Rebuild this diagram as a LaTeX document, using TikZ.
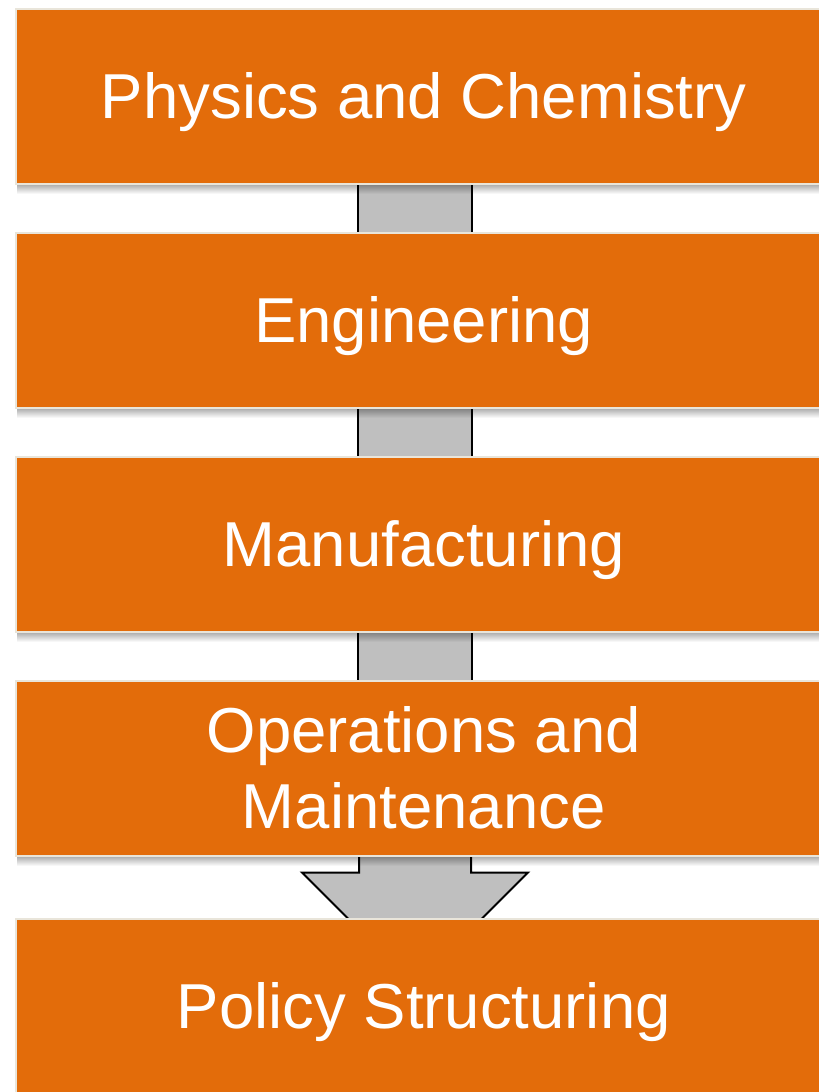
\documentclass[tikz,border=0pt]{standalone}
\usepackage{fontspec}
\setmainfont{Liberation Sans}
\usetikzlibrary{calc,backgrounds}
\definecolor{boxorange}{HTML}{E36C0A}
\definecolor{connectgray}{HTML}{BFBFBF}
\definecolor{boxedge}{HTML}{E9E5DA}
\begin{document}
\begin{tikzpicture}[x=1pt,y=-1pt,
  stage/.style={fill=boxorange, draw=boxedge, line width=1.5pt,
    minimum width=816pt, minimum height=175pt, inner sep=0pt,
    text=white, font=\fontsize{63.5}{76}\selectfont, align=center,
    anchor=north west},
  oneline/.style={text height=45pt, text depth=0pt},
  link/.style={fill=connectgray},
  linkside/.style={draw=black, line width=2pt}]
\clip (0,0) rectangle (819,1092);
\useasboundingbox (0,0) rectangle (819,1092);
\node[stage, oneline] (b1) at (15,8) {Physics and Chemistry};
\node[stage, oneline] (b2) at (15,232) {Engineering};
\node[stage, oneline] (b3) at (15,456) {Manufacturing};
\node[stage] (b4) at (15,680) {Operations and\\Maintenance};
\node[stage, oneline] (b5) at (15,918) {Policy Structuring};
\begin{pgfonlayer}{background}
  \fill[white] (0,0) rectangle (819,1092);
  % straight links
  \foreach \a/\b in {b1/b2,b2/b3,b3/b4}{
    \fill[link] ($(\a.south west)+(343,0)$) rectangle ($(\b.north west)+(457,0)$);
    \draw[linkside] ($(\a.south west)+(343,0)$) -- ($(\b.north west)+(343,0)$);
    \draw[linkside] ($(\a.south west)+(457,0)$) -- ($(\b.north west)+(457,0)$);
  }
  % block arrow from b4 to b5
  \fill[link] ($(b4.south west)+(344,0)$) -- ($(b4.south west)+(344,16)$)
    -- ($(b4.south west)+(287,16)$) -- ($(b4.south west)+(400,129)$)
    -- ($(b4.south west)+(513,16)$) -- ($(b4.south west)+(456,16)$)
    -- ($(b4.south west)+(456,0)$) -- cycle;
  \draw[linkside, line join=miter] ($(b4.south west)+(344,0)$) -- ($(b4.south west)+(344,16)$)
    -- ($(b4.south west)+(287,16)$) -- ($(b4.south west)+(400,129)$)
    -- ($(b4.south west)+(513,16)$) -- ($(b4.south west)+(456,16)$)
    -- ($(b4.south west)+(456,0)$);
  % soft shadows under the boxes
  \foreach \n in {b1,b2,b3,b4}{
    \foreach \k in {0,...,8}{
      \fill[black, opacity={0.30*(1-\k/9)}]
        ($(\n.south west)+(2,\k)$) rectangle ($(\n.south east)+(0,\k+1)$);
    }
  }
\end{pgfonlayer}
\end{tikzpicture}
\end{document}
